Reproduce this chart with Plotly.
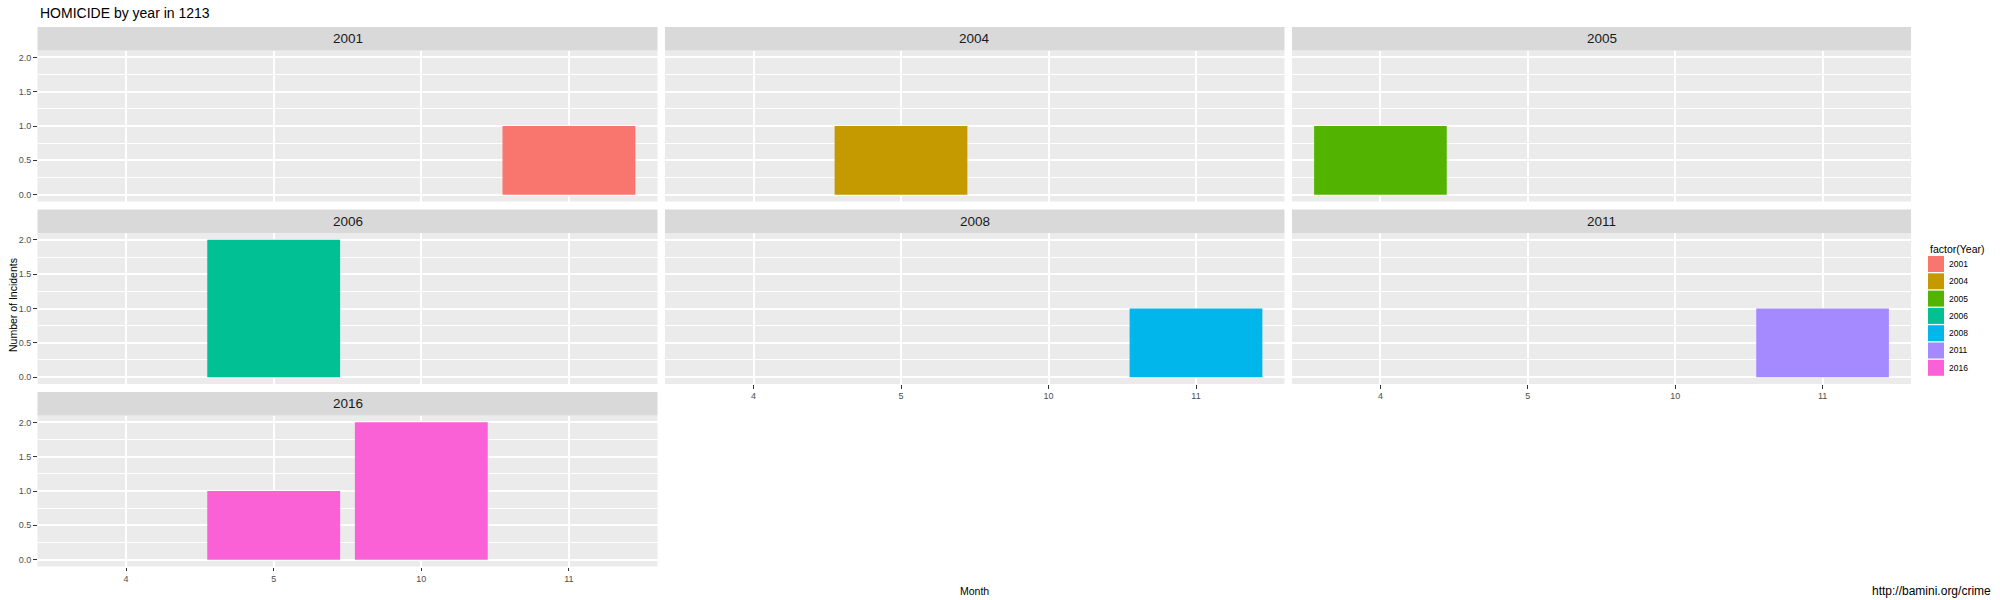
import plotly.graph_objects as go
import pandas as pd

# ---- data ----
years = ['2001', '2004', '2005', '2006', '2008', '2011', '2016']
year_colors = ['#F8766D', '#C49A00', '#53B400', '#00C094', '#00B6EB', '#A58AFF', '#FB61D7']
months = ['4', '5', '10', '11']
bar_year = ['2001', '2004', '2005', '2006', '2008', '2011', '2016', '2016']
bar_month = ['11', '5', '4', '5', '11', '11', '5', '10']
bar_count = [1, 1, 1, 2, 1, 1, 1, 2]
y_ticks = [0.0, 0.5, 1.0, 1.5, 2.0]

df = pd.DataFrame({'Year': bar_year, 'Month': bar_month, 'n': bar_count})

W, H = 2000, 600
col_px = [(37.5, 657.5), (665, 1284.5), (1292, 1911)]
row_px = [(50.5, 201.5), (233, 384), (415.5, 566.5)]
strip_h = 23.5

FONT = 'Liberation Sans, Arial, sans-serif'

fig = go.Figure()
layout = dict(
    width=W, height=H,
    margin=dict(l=0, r=0, t=0, b=0, autoexpand=False),
    paper_bgcolor='white', plot_bgcolor='#EBEBEB',
    font=dict(family=FONT, color='#1A1A1A'),
    barmode='overlay',
    showlegend=False,
)
shapes = []
annotations = []

n_cols = 3
last_row_of_col = {}
for i, y in enumerate(years):
    r, c = divmod(i, n_cols)
    last_row_of_col[c] = r

for i, yr in enumerate(years):
    r, c = divmod(i, n_cols)
    x0, x1 = col_px[c]
    y0, y1 = row_px[r]
    k = '' if i == 0 else str(i + 1)
    show_x = last_row_of_col[c] == r
    show_y = c == 0
    layout['xaxis' + k] = dict(
        domain=[x0 / W, x1 / W], anchor='y' + k, type='category',
        categoryorder='array', categoryarray=months, range=[-0.6, 3.6],
        showgrid=True, gridcolor='white', gridwidth=1.6, zeroline=False,
        showline=False, fixedrange=True,
        showticklabels=show_x, ticks='outside' if show_x else '',
        ticklen=3.5, tickwidth=1, tickcolor='#333333',
        tickfont=dict(size=9, color='#4D4D4D'),
    )
    layout['yaxis' + k] = dict(
        domain=[1 - y1 / H, 1 - y0 / H], anchor='x' + k, range=[-0.1, 2.1],
        tickmode='array', tickvals=y_ticks, tickformat='.1f',
        showgrid=True, gridcolor='white', gridwidth=1.6, zeroline=False,
        showline=False, fixedrange=True,
        minor=dict(tickmode='linear', tick0=0, dtick=0.25, showgrid=True,
                   gridcolor='white', gridwidth=0.8, ticks=''),
        showticklabels=show_y, ticks='outside' if show_y else '',
        ticklen=3.5, tickwidth=1, tickcolor='#333333',
        tickfont=dict(size=9, color='#4D4D4D'),
    )
    sub = df[df['Year'] == yr]
    fig.add_trace(go.Bar(
        x=sub['Month'].tolist(), y=sub['n'].tolist(), width=0.9,
        marker=dict(color=year_colors[i], line=dict(width=0)),
        name=yr, xaxis='x' + k, yaxis='y' + k,
    ))
    # strip
    shapes.append(dict(type='rect', xref='paper', yref='paper',
                       x0=x0 / W, x1=x1 / W, y0=1 - y0 / H, y1=1 - (y0 - strip_h) / H,
                       fillcolor='#D9D9D9', line=dict(width=0), layer='below'))
    annotations.append(dict(text=yr, xref='paper', yref='paper',
                            x=(x0 + x1) / 2 / W, y=1 - (y0 - strip_h / 2) / H,
                            xanchor='center', yanchor='middle', showarrow=False,
                            font=dict(size=13.5, color='#1A1A1A')))

# legend (ggplot-style keys)
leg_x, leg_title_y, key_top, key_size, key_pitch = 1928, 249, 256, 16, 17.3
annotations.append(dict(text='factor(Year)', xref='paper', yref='paper',
                        x=leg_x / W, y=1 - leg_title_y / H, xanchor='left', yanchor='middle',
                        showarrow=False, font=dict(size=10.5, color='#000000')))
for j, (yr, colr) in enumerate(zip(years, year_colors)):
    t = key_top + j * key_pitch
    shapes.append(dict(type='rect', xref='paper', yref='paper',
                       x0=leg_x / W, x1=(leg_x + key_size) / W,
                       y0=1 - (t + key_size) / H, y1=1 - t / H,
                       fillcolor=colr, line=dict(width=0)))
    annotations.append(dict(text=yr, xref='paper', yref='paper',
                            x=(leg_x + key_size + 2.5) / W, y=1 - (t + key_size / 2) / H,
                            xanchor='left', yanchor='middle', showarrow=False,
                            font=dict(size=8.5, color='#000000')))

annotations += [
    dict(text='HOMICIDE by year in 1213', xref='paper', yref='paper',
         x=37.5 / W, y=1 - 13 / H, xanchor='left', yanchor='middle', showarrow=False,
         font=dict(size=14, color='#000000')),
    dict(text='Number of Incidents', xref='paper', yref='paper',
         x=13 / W, y=1 - 305 / H, xanchor='center', yanchor='middle', showarrow=False,
         textangle=-90, font=dict(size=10.5, color='#000000')),
    dict(text='Month', xref='paper', yref='paper',
         x=974 / W, y=1 - 591 / H, xanchor='center', yanchor='middle', showarrow=False,
         font=dict(size=10.5, color='#000000')),
    dict(text='http://bamini.org/crime', xref='paper', yref='paper',
         x=1993 / W, y=1 - 591 / H, xanchor='right', yanchor='middle', showarrow=False,
         font=dict(size=12, color='#000000')),
]
layout['shapes'] = shapes
layout['annotations'] = annotations
fig.update_layout(**layout)
fig.write_html('out.html', config={'displayModeBar': False},
               post_script="document.body.style.margin='0';document.body.style.padding='0';")
